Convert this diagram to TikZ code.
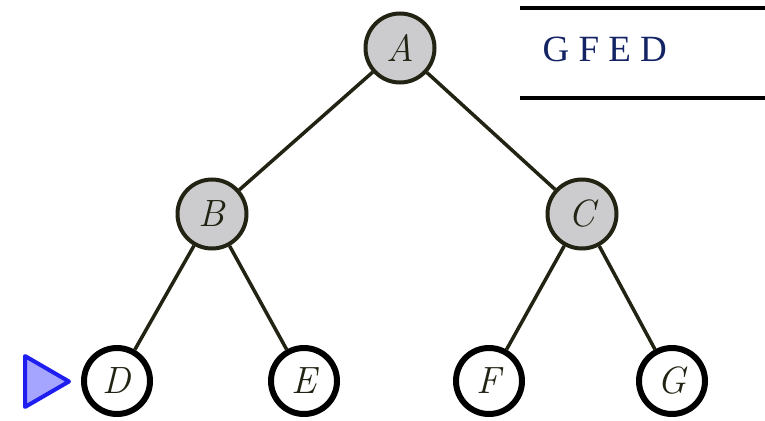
\documentclass[tikz,border=0pt]{standalone}
\usepackage{fontspec}
\newfontfamily\queuefont{Liberation Serif}
\definecolor{nodegray}{RGB}{204,204,207}
\definecolor{edgedark}{RGB}{35,35,20}
\definecolor{queuenavy}{RGB}{20,35,100}
\definecolor{markblue}{RGB}{30,30,240}
\definecolor{markfill}{RGB}{165,165,255}
\begin{document}
\begin{tikzpicture}[x=1pt,y=-1pt,
  visited/.style={circle, draw=edgedark, fill=nodegray, line width=4pt, minimum size=69pt, inner sep=0pt, text=edgedark, font=\itshape\fontsize{38}{38}\selectfont},
  waiting/.style={circle, draw=black, fill=white, line width=6pt, minimum size=66pt, inner sep=0pt, text=edgedark, font=\itshape\fontsize{38}{38}\selectfont},
  tree edge/.style={line width=3.5pt, draw=edgedark}]
\useasboundingbox (0,0) rectangle (765,420);

% tree
\node[visited] (A) at (400,48) {A};
\node[visited] (B) at (212,214) {B};
\node[visited] (C) at (582,214) {C};
\node[waiting] (D) at (117,381) {D};
\node[waiting] (E) at (304,381) {E};
\node[waiting] (F) at (489,381) {F};
\node[waiting] (G) at (672,381) {G};

\draw[tree edge] (A) -- (B);
\draw[tree edge] (A) -- (C);
\draw[tree edge] (B) -- (D);
\draw[tree edge] (B) -- (E);
\draw[tree edge] (C) -- (F);
\draw[tree edge] (C) -- (G);

% current marker
\draw[line width=4pt, draw=markblue, fill=markfill, line join=round] (25,356) -- (25,407) -- (69,381.5) -- cycle;

% queue
\draw[line width=4pt] (520,8) -- (765,8);
\draw[line width=4pt] (520,98) -- (765,98);
\node[anchor=base west, text=queuenavy, font=\queuefont\fontsize{37}{37}\selectfont] (queue) at (539,62) {G F E D};
\end{tikzpicture}
\end{document}
